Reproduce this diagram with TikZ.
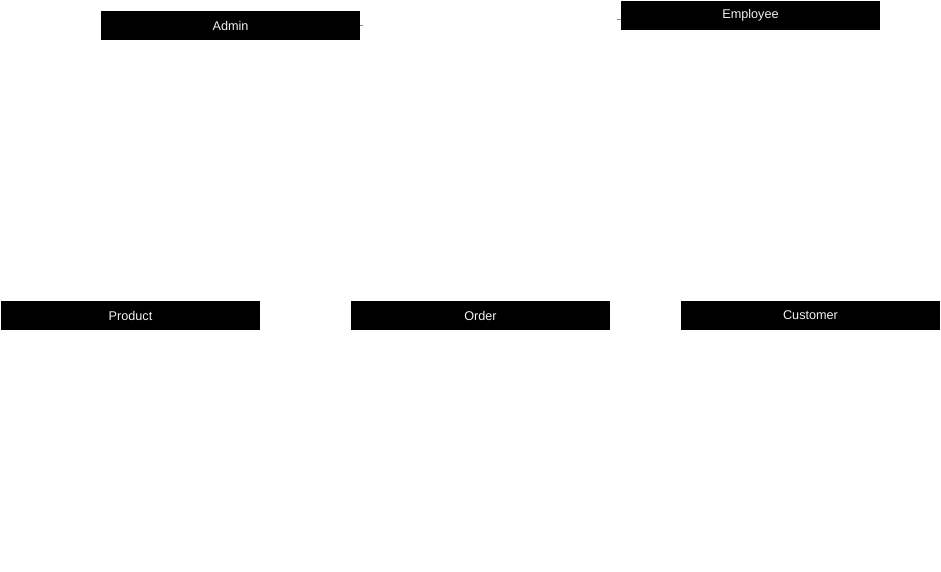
\documentclass[tikz,border=0pt]{standalone}
\usepackage{fontspec}
\setmainfont{Liberation Sans}
\begin{document}
\begin{tikzpicture}[x=0.75pt,y=-0.75pt,
  entity/.style={fill=black,draw=none,text=black!6,inner sep=0pt,
    minimum width=259*0.75pt,minimum height=29*0.75pt,
    font=\fontsize{9.5}{11}\selectfont}]
  \useasboundingbox[fill=white] (0,0) rectangle (941,571);
  % entity header bars
  \node[entity] (admin)    at (230.5,25.5)  {Admin};
  \node[entity] (employee) at (750.5,15.5)  {Employee};
  \node[entity] (product)  at (130.5,315.5) {Product};
  \node[entity] (order)    at (480.5,315.5) {Order};
  \node[entity] (customer) at (810.5,315.5) {Customer};
  % association between admin and employee (white line, grey ends)
  \coordinate (empin) at ([yshift=-3.5*0.75pt]employee.west);
  \draw[white,line width=0.6pt] (admin.east) -- (empin);
  \draw[black!45,line width=0.6pt] (admin.east) -- ++(3,0);
  \draw[black!45,line width=0.6pt] (empin) -- ++(-4,0);
\end{tikzpicture}
\end{document}
